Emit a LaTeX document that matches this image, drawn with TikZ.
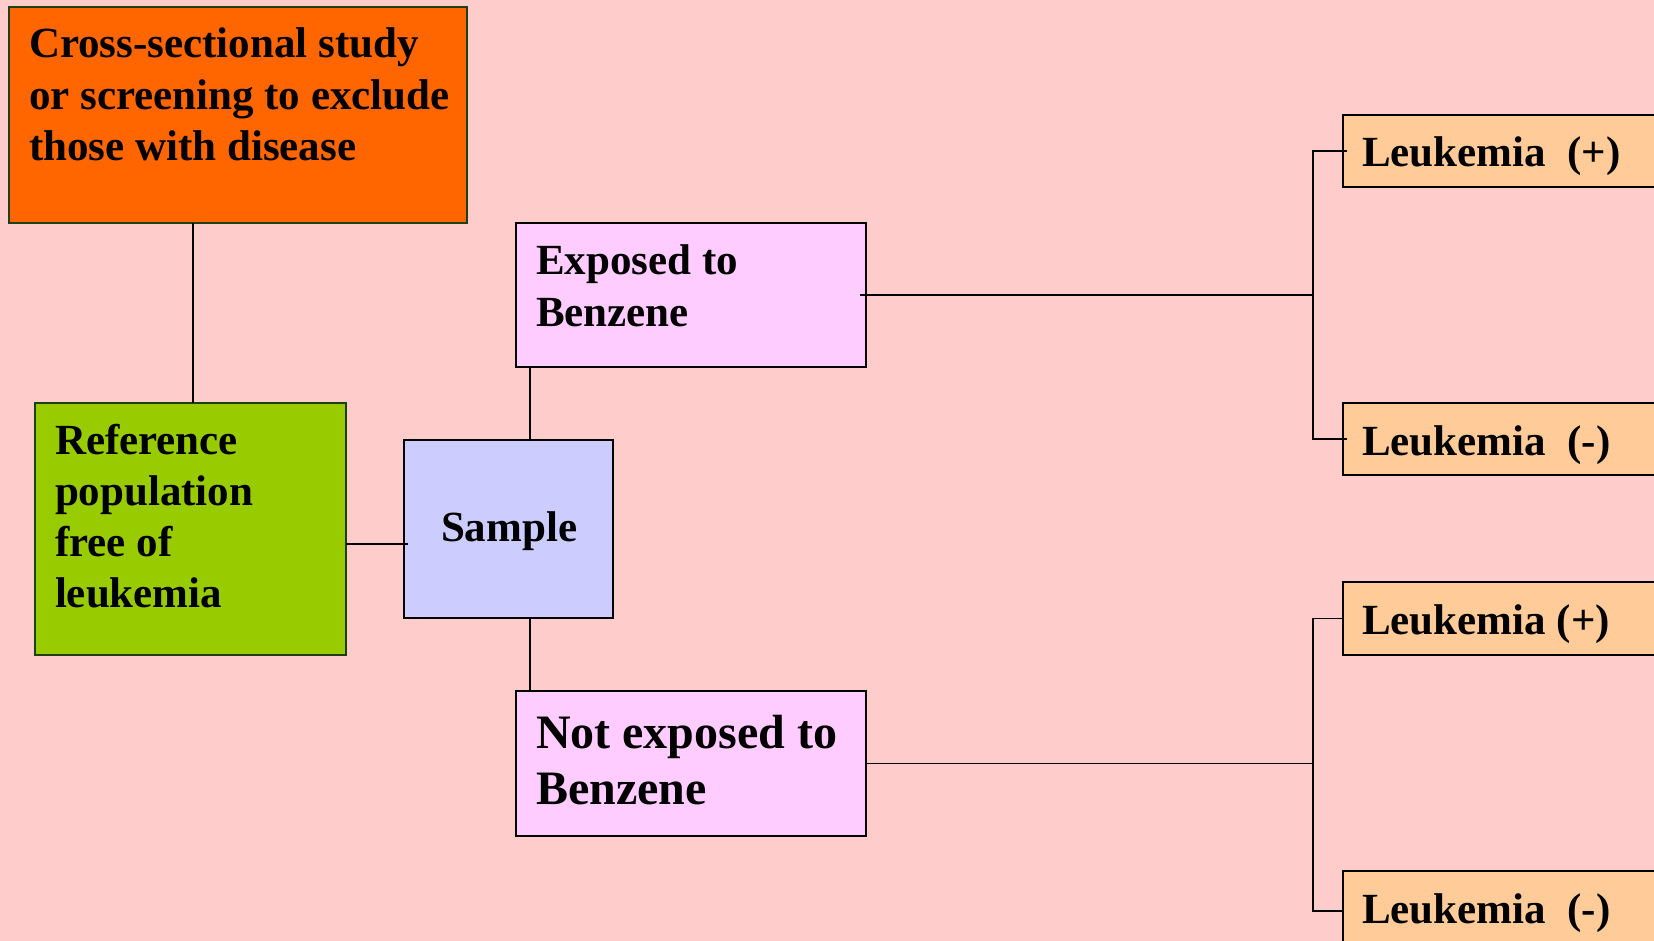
\documentclass[tikz,border=0pt]{standalone}
\usepackage{fontspec}
\setmainfont{Liberation Serif}
\usetikzlibrary{calc}
\definecolor{bgpink}{HTML}{FFCCCC}
\definecolor{orangebox}{HTML}{FF6600}
\definecolor{greenbox}{HTML}{99CC00}
\definecolor{samplebox}{HTML}{CCCCFF}
\definecolor{exposedbox}{HTML}{FFCCFF}
\definecolor{leukbox}{HTML}{FFCC99}
\definecolor{darkborder}{HTML}{1E3F12}
\tikzset{
  boxnode/.style={draw=black, line width=1.6pt, anchor=north west, inner sep=0pt, outer sep=0pt},
  txt/.style={anchor=base west, inner sep=0pt, outer sep=0pt, align=left,
    font=\fontsize{43}{51.5}\selectfont\bfseries},
  gtxt/.style={txt, font=\fontsize{43}{51}\selectfont\bfseries},
  bigtxt/.style={txt, font=\fontsize{48}{56}\selectfont\bfseries},
  conn/.style={draw=black, line width=1.6pt}
}
\begin{document}
\begin{tikzpicture}[x=1pt,y=-1pt]
\path[use as bounding box, fill=bgpink] (0,0) rectangle (1654,941);
\clip (0,0) rectangle (1654,941);
% boxes
\node[boxnode, draw=darkborder, fill=orangebox, minimum width=458pt, minimum height=216pt] (orange) at (9,7) {};
\node[boxnode, draw=darkborder, fill=greenbox, minimum width=311pt, minimum height=252pt] (green) at (35,403) {};
\node[boxnode, fill=samplebox, minimum width=209pt, minimum height=178pt] (sample) at (404,440) {};
\node[boxnode, fill=exposedbox, minimum width=350pt, minimum height=144pt] (exposed) at (516,223) {};
\node[boxnode, fill=exposedbox, minimum width=350pt, minimum height=145pt] (notexp) at (516,691) {};
\node[boxnode, fill=leukbox, minimum width=340pt, minimum height=72pt] (lp1) at (1343,115) {};
\node[boxnode, fill=leukbox, minimum width=340pt, minimum height=72pt] (lm1) at (1343,403) {};
\node[boxnode, fill=leukbox, minimum width=340pt, minimum height=73pt] (lp2) at (1343,582) {};
\node[boxnode, fill=leukbox, minimum width=340pt, minimum height=80pt] (lm2) at (1343,871) {};
% texts (anchored at the baseline of their last line)
\node[txt] (orangeT) at (29,161) {Cross-sectional study\\or screening to exclude\\those with disease};
\node[gtxt] (greenT) at (55,607) {Reference\\population\\free of\\leukemia};
\node[txt] (sampleT) at (441,541) {Sample};
\node[txt] (exposedT) at (536,326.5) {Exposed to\\Benzene};
\node[bigtxt] (notexpT) at (536,804) {Not exposed to\\Benzene};
\node[txt] (lp1T) at (1362,167) {Leukemia\ \ (+)};
\node[txt] (lm1T) at (1362,455) {Leukemia\ \ (-)};
\node[txt] (lp2T) at (1362,634) {Leukemia (+)};
\node[txt] (lm2T) at (1362,923) {Leukemia\ \ (-)};
% helper coordinates
\coordinate (jx) at (1313,0);
\coordinate (sx) at (530,0);
\coordinate (gy) at (0,544);
% connectors
\draw[conn] ([xshift=2.5pt]green.north) -- ([xshift=2.5pt]green.north |- orange.south);
\draw[conn] (green.east |- gy) -- ([xshift=4pt]sample.west |- gy);
\draw[conn] (exposed.south -| sx) -- (sample.north -| sx);
\draw[conn] (sample.south -| sx) -- (notexp.north -| sx);
\draw[conn] ([xshift=-6pt]exposed.east) -- (exposed.east -| jx);
\draw[conn] (notexp.east) -- (notexp.east -| jx);
\draw[conn] ([xshift=4pt]lp1.west) -- (lp1.west -| jx) -- (lm1.west -| jx) -- ([xshift=4pt]lm1.west);
\draw[conn] (lp2.west) -- (lp2.west -| jx) -- (lm2.west -| jx) -- (lm2.west);
\end{tikzpicture}
\end{document}
